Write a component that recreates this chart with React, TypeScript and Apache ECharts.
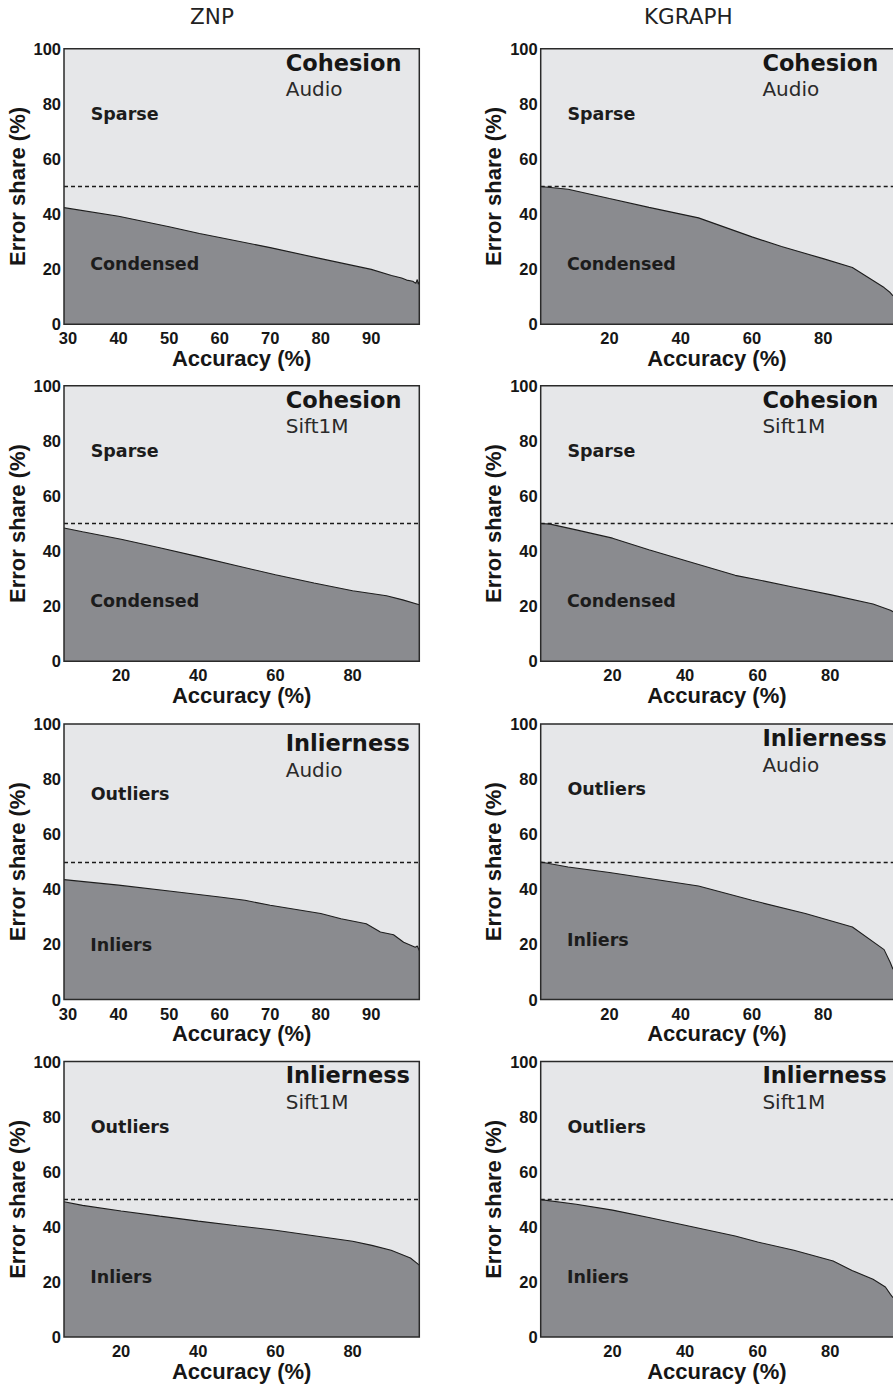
import React, { useEffect, useRef } from "react";
import * as echarts from "echarts";

// ---------- texts ----------
const columnTitles = ["ZNP", "KGRAPH"];
const metricTitles = ["Cohesion", "Cohesion", "Inlierness", "Inlierness"];
const datasetNames = ["Audio", "Sift1M", "Audio", "Sift1M"];
const upperRegion = ["Sparse", "Sparse", "Outliers", "Outliers"];
const lowerRegion = ["Condensed", "Condensed", "Inliers", "Inliers"];
const xAxisName = "Accuracy (%)";
const yAxisName = "Error share (%)";

// ---------- ticks ----------
const znpAudioTicks = [30, 40, 50, 60, 70, 80, 90];
const pctTicks = [20, 40, 60, 80];
const yMax = 100;
const yStep = 20;
const threshold = 50;

// ---------- data (accuracy %, error share %) ----------
const znpCohesionAudioX = [29.2, 40, 50, 56, 60, 70, 80, 90, 94, 96, 97, 98.2, 98.8, 99.1, 99.3, 99.5];
const znpCohesionAudioY = [42.3, 39.2, 35.4, 32.9, 31.5, 27.8, 23.8, 19.9, 17.7, 16.8, 16.0, 15.6, 14.8, 16.2, 14.5, 15.4];

const kgCohesionAudioX = [0.7, 8.4, 20, 31.1, 45, 60, 68.3, 80, 88.2, 97.1, 98.8, 99.6];
const kgCohesionAudioY = [50.0, 49.0, 45.6, 42.4, 38.6, 31.7, 28.2, 23.8, 20.6, 13.3, 11.5, 10.3];

const znpCohesionSiftX = [5.2, 10, 20, 30, 40, 50, 60, 70, 80, 88.8, 93, 97.3];
const znpCohesionSiftY = [48.4, 47.0, 44.3, 41.2, 38.0, 34.7, 31.4, 28.4, 25.6, 23.8, 22.3, 20.5];

const kgCohesionSiftX = [0.2, 2.8, 10, 20, 30, 40, 53.8, 60, 70, 80, 91.8, 96.6, 97.3];
const kgCohesionSiftY = [50.0, 49.8, 47.7, 44.7, 40.5, 36.6, 31.2, 29.6, 26.9, 24.2, 20.8, 18.5, 18.0];

const znpInlierAudioX = [29.2, 40, 50, 60, 65, 70, 80, 84, 89, 91.8, 94.4, 96.4, 98.7, 99.1, 99.3, 99.5];
const znpInlierAudioY = [43.5, 41.5, 39.4, 37.2, 36.0, 34.2, 31.2, 29.3, 27.5, 24.5, 23.5, 20.8, 19.0, 19.4, 18.6, 17.8];

const kgInlierAudioX = [0.7, 8.4, 20, 45, 60, 75, 88.2, 97.1, 98.8, 99.6];
const kgInlierAudioY = [49.9, 48.1, 46.1, 41.2, 36.0, 31.2, 26.3, 18.1, 13.5, 11.0];

const znpInlierSiftX = [5.2, 10, 20, 30, 40, 50, 60, 70, 80, 85, 90, 95, 97.3];
const znpInlierSiftY = [49.1, 47.8, 45.8, 43.9, 42.1, 40.4, 38.8, 36.8, 34.8, 33.3, 31.5, 28.7, 26.1];

const kgInlierSiftX = [0.2, 10, 20, 30, 40, 53.8, 60, 70, 80.8, 86, 91.8, 95.2, 96.6, 97.3];
const kgInlierSiftY = [49.9, 48.2, 46.1, 43.4, 40.6, 36.7, 34.5, 31.5, 27.6, 24.2, 21.0, 18.2, 15.5, 14.3];

// panels in row-major order: [row][col]
const panels = [
  { xs: znpCohesionAudioX, ys: znpCohesionAudioY, ticks: znpAudioTicks },
  { xs: kgCohesionAudioX, ys: kgCohesionAudioY, ticks: pctTicks },
  { xs: znpCohesionSiftX, ys: znpCohesionSiftY, ticks: pctTicks },
  { xs: kgCohesionSiftX, ys: kgCohesionSiftY, ticks: pctTicks },
  { xs: znpInlierAudioX, ys: znpInlierAudioY, ticks: znpAudioTicks },
  { xs: kgInlierAudioX, ys: kgInlierAudioY, ticks: pctTicks },
  { xs: znpInlierSiftX, ys: znpInlierSiftY, ticks: pctTicks },
  { xs: kgInlierSiftX, ys: kgInlierSiftY, ticks: pctTicks },
];

// ---------- layout ----------
const W = 893;
const H = 1385;
const COL_LEFT = [64, 540.7];
const ROW_TOP = [48.7, 385.8, 724, 1061.6];
const GRID_W = 355.3;
const GRID_H = 275.5;
const COL_TITLE_X = [212, 688.3];
const AXIS_FONT = '"Liberation Sans", Arial, Helvetica, sans-serif';
const ANNOT_FONT = '"DejaVu Sans", sans-serif';
const LIGHT = "#e6e7e9";
const DARK = "#8a8b8f";
const INK = "#161616";

export default function App() {
  const ref = useRef<HTMLDivElement>(null);

  useEffect(() => {
    if (!ref.current) return;
    const chart = echarts.init(ref.current, undefined, { renderer: "svg" });

    const grids: any[] = [];
    const xAxes: any[] = [];
    const yAxes: any[] = [];
    const series: any[] = [];
    const graphics: any[] = [];

    panels.forEach((p, i) => {
      const row = Math.floor(i / 2);
      const col = i % 2;
      const left = COL_LEFT[col];
      const top = ROW_TOP[row];
      grids.push({
        left,
        top,
        width: GRID_W,
        height: GRID_H,
        show: true,
        backgroundColor: LIGHT,
        borderWidth: 0,
        containLabel: false,
      });
      xAxes.push({
        gridIndex: i,
        type: "value",
        min: p.xs[0],
        max: p.xs[p.xs.length - 1],
        axisLine: { show: false },
        axisTick: { show: false },
        splitLine: { show: false },
        axisLabel: {
          customValues: p.ticks,
          fontFamily: AXIS_FONT,
          fontWeight: "bold",
          fontSize: 16.5,
          color: INK,
          margin: 5.5,
        },
        name: xAxisName,
        nameLocation: "middle",
        nameGap: 20,
        nameTextStyle: {
          fontFamily: AXIS_FONT,
          fontWeight: "bold",
          fontSize: 22,
          color: INK,
        },
      });
      yAxes.push({
        gridIndex: i,
        type: "value",
        min: 0,
        max: yMax,
        interval: yStep,
        axisLine: { show: false },
        axisTick: { show: false },
        splitLine: { show: false },
        axisLabel: {
          fontFamily: AXIS_FONT,
          fontWeight: "bold",
          fontSize: 16.5,
          color: INK,
          margin: 3,
        },
        name: yAxisName,
        nameLocation: "middle",
        nameGap: 36,
        nameTextStyle: {
          fontFamily: AXIS_FONT,
          fontWeight: "bold",
          fontSize: 22,
          color: INK,
        },
      });
      series.push({
        type: "line",
        xAxisIndex: i,
        yAxisIndex: i,
        data: p.xs.map((x, j) => [x, p.ys[j]]),
        showSymbol: false,
        symbol: "none",
        lineStyle: { color: "#1e1e1e", width: 1.1 },
        areaStyle: { color: DARK, opacity: 1 },
        markLine: {
          silent: true,
          symbol: "none",
          label: { show: false },
          lineStyle: { color: "#1a1a1a", width: 1.4, type: [4, 3] },
          data: [{ yAxis: threshold }],
        },
      });

      // annotation offset (ZNP Inlierness Audio sits slightly lower)
      const dy = row === 2 && col === 0 ? 5.3 : 0;
      const txt = (text: string, x: number, y: number, font: string, fill: string) => ({
        type: "text",
        x,
        y,
        z: 100,
        silent: true,
        style: {
          text,
          font,
          fill,
          align: "left",
          verticalAlign: "middle",
          textAlign: "left",
          textVerticalAlign: "middle",
        },
      });
      graphics.push(txt(metricTitles[row], left + 221.7, top + 13.8 + dy, `bold 22.5px ${ANNOT_FONT}`, "#161616"));
      graphics.push(txt(datasetNames[row], left + 221.7, top + 40.5 + dy, `20px ${ANNOT_FONT}`, "#2a2a2a"));
      graphics.push(txt(upperRegion[row], left + 26.7, top + 65 + dy, `bold 17.5px ${ANNOT_FONT}`, "#1c1c1c"));
      graphics.push(txt(lowerRegion[row], left + 26.2, top + 215.5 + dy, `bold 17.5px ${ANNOT_FONT}`, "#1c1c1c"));
      graphics.push({
        type: "rect",
        z: 100,
        silent: true,
        shape: { x: left, y: top, width: GRID_W, height: GRID_H },
        style: { fill: "none", stroke: "#2a2a2a", lineWidth: 1.5 },
      });
    });

    columnTitles.forEach((t, c) => {
      graphics.push({
        type: "text",
        x: COL_TITLE_X[c],
        y: 16,
        z: 100,
        silent: true,
        style: {
          text: t,
          font: `21.5px ${ANNOT_FONT}`,
          fill: "#222",
          align: "center",
          verticalAlign: "middle",
          textAlign: "center",
          textVerticalAlign: "middle",
        },
      });
    });

    chart.setOption({
      animation: false,
      backgroundColor: "#ffffff",
      grid: grids,
      xAxis: xAxes,
      yAxis: yAxes,
      series,
      graphic: { elements: graphics },
    });

    return () => chart.dispose();
  }, []);

  return (
    <div
      ref={ref}
      style={{ position: "absolute", left: 0, top: 0, width: W, height: H, overflow: "hidden" }}
    />
  );
}
